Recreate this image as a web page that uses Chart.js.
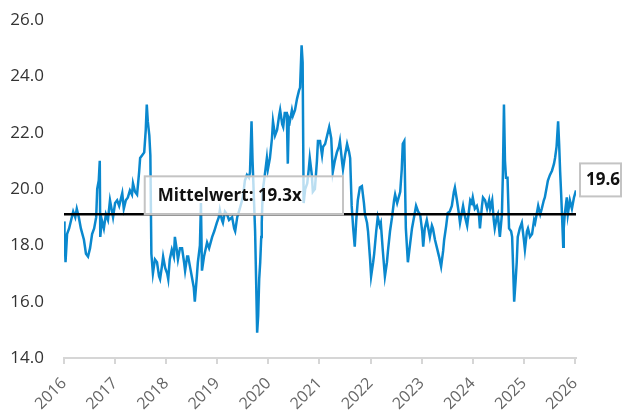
<!DOCTYPE html>
<html>
<head>
<meta charset="utf-8">
<script src="https://cdn.jsdelivr.net/npm/chart.js@4/dist/chart.umd.min.js"></script>
<style>
  html, body { margin: 0; padding: 0; background: #fff; }
  #wrap { width: 622px; height: 414px; }
</style>
</head>
<body>
<div id="wrap"><canvas id="peChart" width="622" height="414"></canvas></div>
<script>
// Zeitachse (Dezimaljahre) und KGV-Werte
const dates = [
  2016.00, 2016.01, 2016.03, 2016.06, 2016.10, 2016.14, 2016.18, 2016.22, 2016.25, 2016.29,
  2016.33, 2016.39, 2016.43, 2016.47, 2016.51, 2016.55, 2016.59, 2016.63, 2016.65, 2016.68,
  2016.70, 2016.71, 2016.74, 2016.78, 2016.82, 2016.86, 2016.90, 2016.94, 2016.96, 2017.00,
  2017.04, 2017.08, 2017.14, 2017.17, 2017.21, 2017.25, 2017.29, 2017.33, 2017.35, 2017.39,
  2017.43, 2017.47, 2017.49, 2017.53, 2017.57, 2017.60, 2017.62, 2017.64, 2017.67, 2017.69,
  2017.71, 2017.74, 2017.78, 2017.82, 2017.86, 2017.88, 2017.92, 2017.94, 2017.98, 2018.02,
  2018.04, 2018.07, 2018.11, 2018.15, 2018.17, 2018.21, 2018.23, 2018.27, 2018.31, 2018.35,
  2018.37, 2018.41, 2018.43, 2018.47, 2018.50, 2018.54, 2018.56, 2018.60, 2018.62, 2018.66,
  2018.68, 2018.70, 2018.74, 2018.80, 2018.84, 2018.90, 2018.94, 2018.99, 2019.03, 2019.05,
  2019.09, 2019.11, 2019.15, 2019.19, 2019.23, 2019.29, 2019.33, 2019.35, 2019.39, 2019.44,
  2019.50, 2019.54, 2019.58, 2019.62, 2019.64, 2019.67, 2019.69, 2019.72, 2019.74, 2019.76,
  2019.78, 2019.80, 2019.82, 2019.84, 2019.86, 2019.87, 2019.89, 2019.93, 2019.97, 2019.99,
  2020.03, 2020.07, 2020.09, 2020.13, 2020.17, 2020.21, 2020.23, 2020.27, 2020.29, 2020.32,
  2020.36, 2020.38, 2020.40, 2020.42, 2020.46, 2020.48, 2020.52, 2020.56, 2020.60, 2020.62,
  2020.65, 2020.67, 2020.69, 2020.72, 2020.76, 2020.79, 2020.81, 2020.85, 2020.87, 2020.91,
  2020.95, 2020.97, 2021.01, 2021.05, 2021.07, 2021.11, 2021.15, 2021.19, 2021.23, 2021.26,
  2021.30, 2021.34, 2021.38, 2021.40, 2021.44, 2021.46, 2021.50, 2021.54, 2021.58, 2021.60,
  2021.63, 2021.66, 2021.69, 2021.72, 2021.75, 2021.79, 2021.83, 2021.87, 2021.89, 2021.93,
  2021.95, 2021.99, 2022.01, 2022.05, 2022.07, 2022.11, 2022.14, 2022.18, 2022.20, 2022.24,
  2022.28, 2022.32, 2022.34, 2022.38, 2022.42, 2022.46, 2022.48, 2022.52, 2022.58, 2022.61,
  2022.63, 2022.66, 2022.69, 2022.73, 2022.77, 2022.81, 2022.85, 2022.89, 2022.93, 2022.97,
  2023.01, 2023.03, 2023.06, 2023.10, 2023.14, 2023.16, 2023.20, 2023.22, 2023.26, 2023.30,
  2023.34, 2023.38, 2023.42, 2023.44, 2023.48, 2023.51, 2023.55, 2023.59, 2023.63, 2023.65,
  2023.69, 2023.73, 2023.75, 2023.79, 2023.81, 2023.85, 2023.89, 2023.93, 2023.95, 2023.98,
  2024.00, 2024.04, 2024.08, 2024.12, 2024.14, 2024.18, 2024.20, 2024.24, 2024.28, 2024.32,
  2024.34, 2024.38, 2024.41, 2024.43, 2024.47, 2024.49, 2024.53, 2024.57, 2024.59, 2024.61,
  2024.63, 2024.65, 2024.68, 2024.71, 2024.75, 2024.77, 2024.79, 2024.81, 2024.84, 2024.86,
  2024.88, 2024.92, 2024.96, 2025.00, 2025.02, 2025.06, 2025.08, 2025.12, 2025.16, 2025.20,
  2025.22, 2025.26, 2025.28, 2025.32, 2025.35, 2025.39, 2025.41, 2025.45, 2025.47, 2025.51,
  2025.55, 2025.59, 2025.61, 2025.64, 2025.67, 2025.69, 2025.71, 2025.73, 2025.75, 2025.77,
  2025.78, 2025.80, 2025.84, 2025.86, 2025.90, 2025.94, 2025.98, 2026.02
];
const peValues = [
  18.85, 18.3, 17.4, 18.4, 18.6, 18.9, 19.2, 19.0, 19.3, 19.0,
  18.6, 18.2, 17.7, 17.6, 17.9, 18.4, 18.6, 19.0, 20.0, 20.3,
  21.0, 18.3, 18.9, 18.6, 19.1, 18.9, 19.6, 19.2, 19.0, 19.5,
  19.6, 19.4, 19.85, 19.3, 19.6, 19.7, 19.95, 19.8, 20.2, 19.9,
  19.8, 20.6, 21.1, 21.2, 21.3, 22.1, 23.0, 22.4, 21.9, 21.2,
  17.7, 17.0, 17.5, 17.4, 16.9, 16.8, 17.3, 17.6, 17.2, 17.0,
  16.8, 17.5, 17.85, 17.6, 18.3, 17.8, 17.5, 17.9, 17.9, 17.4,
  17.1, 17.6, 17.6, 17.2, 16.9, 16.5, 16.0, 16.9, 17.4, 18.0,
  19.5, 17.1, 17.6, 18.1, 17.9, 18.3, 18.5, 18.8, 19.0, 19.25,
  18.9, 18.8, 19.2, 19.1, 18.9, 19.0, 18.6, 18.5, 19.0, 19.3,
  19.7, 20.3, 20.5, 20.4, 20.6, 22.4, 21.0, 19.5, 18.5, 16.75,
  14.9, 15.5, 16.8, 17.4, 18.3, 18.8, 19.95, 20.5, 21.1, 20.7,
  21.1, 21.8, 22.4, 21.9, 22.1, 22.6, 22.8, 22.3, 22.2, 22.7,
  22.7, 20.9, 22.5, 22.4, 22.8, 22.6, 22.8, 23.2, 23.5, 23.6,
  25.1, 24.5, 19.5, 20.0, 20.2, 20.7, 21.1, 20.5, 19.9, 20.0,
  21.0, 21.7, 21.7, 21.2, 21.5, 21.6, 21.9, 22.2, 21.8, 20.6,
  21.0, 21.3, 21.5, 21.7, 21.0, 20.7, 21.2, 21.6, 21.3, 21.1,
  19.4, 18.6, 17.95, 18.9, 19.6, 20.05, 20.1, 19.5, 19.1, 18.8,
  18.5, 17.5, 16.9, 17.4, 17.7, 18.5, 19.0, 18.7, 18.8, 17.8,
  16.9, 17.4, 17.8, 18.5, 19.0, 19.6, 19.8, 19.5, 19.9, 20.7,
  21.6, 21.7, 18.6, 17.4, 18.0, 18.6, 19.0, 19.4, 19.2, 19.1,
  18.5, 17.95, 18.6, 18.9, 18.5, 18.3, 18.7, 18.6, 18.2, 17.9,
  17.6, 17.25, 17.8, 18.2, 18.7, 19.15, 19.2, 19.4, 19.9, 20.05,
  19.6, 19.1, 18.8, 19.2, 19.4, 19.0, 18.7, 19.3, 19.6, 19.5,
  19.7, 19.3, 19.4, 19.1, 18.6, 19.4, 19.7, 19.6, 19.3, 19.6,
  19.3, 19.6, 18.9, 18.6, 19.0, 19.1, 18.3, 19.1, 20.6, 23.0,
  21.0, 20.4, 20.4, 18.6, 18.5, 18.3, 17.2, 16.0, 16.8, 17.4,
  18.3, 18.6, 18.8, 18.2, 17.85, 18.5, 18.6, 18.3, 18.4, 18.9,
  18.8, 19.2, 19.4, 19.1, 19.3, 19.6, 19.7, 20.1, 20.3, 20.5,
  20.65, 20.9, 21.1, 21.5, 22.4, 21.6, 20.6, 19.8, 18.9, 17.95,
  18.6, 19.1, 19.7, 19.1, 19.6, 19.3, 19.7, 19.95
];
const yearTicks = [2016, 2017, 2018, 2019, 2020, 2021, 2022, 2023, 2024, 2025, 2026];
const valueTicks = [14, 16, 18, 20, 22, 24, 26];
const meanValue = 19.1;
const meanText = 'Mittelwert: 19.3x';
const lastText = '19.6';

const seriesPoints = dates.map((d, i) => ({x: d, y: peValues[i]}));
const meanPoints = [{x: dates[0], y: meanValue}, {x: dates[dates.length - 1], y: meanValue}];

// Beschriftungen: Mittelwert-Box und letzter Wert
const labelPlugin = {
  id: 'labels',
  afterDatasetsDraw(chart) {
    const {ctx, chartArea, scales: {x, y}} = chart;
    const yMean = y.getPixelForValue(meanValue);
    ctx.save();
    ctx.font = 'bold 17px "Open Sans", sans-serif';
    ctx.textBaseline = 'middle';

    // Box über der Mittelwert-Linie
    const bx0 = x.getPixelForValue(2017.58);
    const bx1 = x.getPixelForValue(2021.46);
    const bTop = y.getPixelForValue(20.45);
    ctx.fillStyle = 'rgba(255,255,255,0.72)';
    ctx.fillRect(bx0, bTop, bx1 - bx0, yMean - bTop);
    ctx.strokeStyle = '#c4c4c4';
    ctx.lineWidth = 2;
    ctx.strokeRect(bx0, bTop, bx1 - bx0, yMean - bTop);
    ctx.fillStyle = '#111';
    ctx.fillText(meanText, bx0 + 13, (bTop + yMean) / 2 + 1);

    // Box mit letztem Wert
    const lastY = y.getPixelForValue(peValues[peValues.length - 1]);
    const lx0 = chartArea.right + 4;
    const lTop = lastY - 27;
    ctx.fillStyle = '#fff';
    ctx.fillRect(lx0, lTop, 621 - lx0, 33);
    ctx.strokeRect(lx0, lTop, 621 - lx0, 33);
    ctx.fillStyle = '#111';
    ctx.fillText(lastText, lx0 + 6, lTop + 17);
    ctx.restore();
  }
};

const ctx = document.getElementById('peChart');
const chart = new Chart(ctx, {
  type: 'line',
  data: {
    datasets: [
      {
        data: meanPoints,
        borderColor: '#000',
        borderWidth: 2.5,
        pointRadius: 0,
        order: 0
      },
      {
        data: seriesPoints,
        borderColor: '#0a88ce',
        borderWidth: 2.5,
        pointRadius: 0,
        tension: 0,
        order: 1
      }
    ]
  },
  options: {
    responsive: false,
    animation: false,
    layout: {padding: {top: 20, right: 46, bottom: 0, left: 0}},
    plugins: {legend: {display: false}, tooltip: {enabled: false}},
    scales: {
      x: {
        type: 'linear',
        min: 2016,
        max: 2026.02,
        afterBuildTicks: s => { s.ticks = yearTicks.map(v => ({value: v})); },
        afterFit: s => { s.height = 56; },
        grid: {display: true, drawOnChartArea: false, drawTicks: true, tickLength: 6, color: '#d6d6d6', lineWidth: 2},
        border: {display: true, color: '#d6d6d6', width: 2},
        ticks: {
          autoSkip: false,
          minRotation: 45,
          maxRotation: 45,
          padding: 10,
          color: '#666',
          font: {family: '"Open Sans", sans-serif', size: 16},
          callback: v => String(v)
        }
      },
      y: {
        min: 14,
        max: 26,
        afterBuildTicks: s => { s.ticks = valueTicks.map(v => ({value: v})); },
        afterFit: s => { s.width = 64; s.paddingTop = 10; s.paddingBottom = 10; },
        grid: {display: false, drawTicks: false},
        border: {display: false},
        ticks: {
          padding: 20,
          color: '#333',
          font: {family: '"Open Sans", sans-serif', size: 17},
          callback: v => v.toFixed(1)
        }
      }
    }
  },
  plugins: [labelPlugin]
});
</script>
</body>
</html>
